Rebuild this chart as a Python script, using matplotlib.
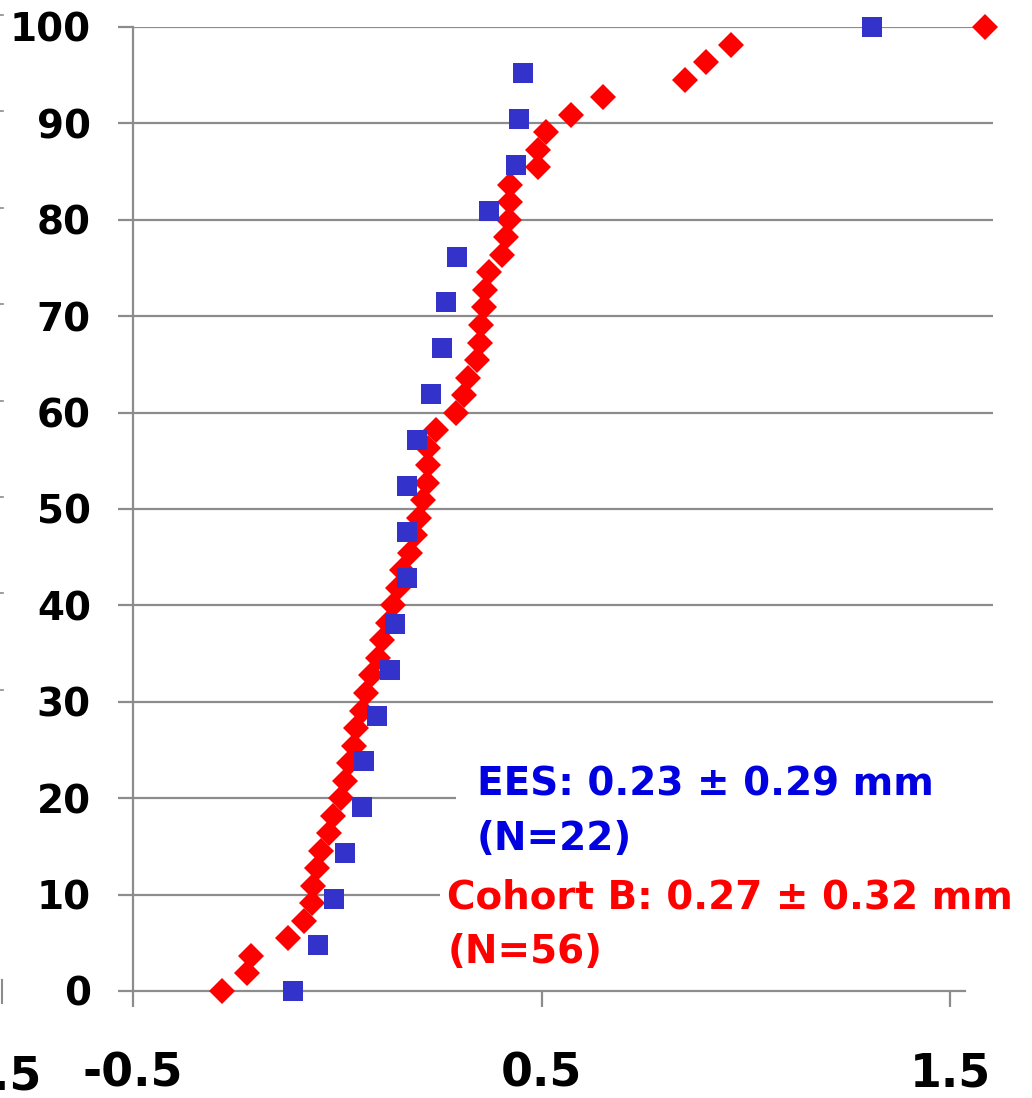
import matplotlib
matplotlib.use("Agg")
import matplotlib.pyplot as plt
from matplotlib.patches import Rectangle
from matplotlib.lines import Line2D

# ---------------- data ----------------
ees_x = [-0.108, -0.047, -0.007, 0.019, 0.060, 0.065, 0.097, 0.129, 0.141, 0.170, 0.171,
         0.171, 0.195, 0.230, 0.256, 0.266, 0.294, 0.371, 0.438, 0.446, 0.455, 1.309]
ees_y = [0.0, 4.76, 9.52, 14.29, 19.05, 23.81, 28.57, 33.33, 38.10, 42.86, 47.62,
         52.38, 57.14, 61.90, 66.67, 71.43, 76.19, 80.95, 85.71, 90.48, 95.24, 100.0]

cohort_x = [-0.282, -0.221, -0.211, -0.121, -0.081, -0.062, -0.059, -0.050, -0.040, -0.020,
            -0.010, 0.009, 0.019, 0.029, 0.041, 0.046, 0.061, 0.070, 0.083, 0.100,
            0.110, 0.124, 0.136, 0.149, 0.159, 0.178, 0.190, 0.200, 0.210, 0.220,
            0.222, 0.222, 0.242, 0.291, 0.310, 0.320, 0.342, 0.349, 0.352, 0.359,
            0.362, 0.371, 0.403, 0.413, 0.420, 0.423, 0.423, 0.491, 0.491, 0.511,
            0.572, 0.651, 0.851, 0.903, 0.964, 1.586]
cohort_y = [0.0, 1.82, 3.64, 5.45, 7.27, 9.09, 10.91, 12.73, 14.55, 16.36,
            18.18, 20.0, 21.82, 23.64, 25.45, 27.27, 29.09, 30.91, 32.73, 34.55,
            36.36, 38.18, 40.0, 41.82, 43.64, 45.45, 47.27, 49.09, 50.91, 52.73,
            54.55, 56.36, 58.18, 60.0, 61.82, 63.64, 65.45, 67.27, 69.09, 70.91,
            72.73, 74.55, 76.36, 78.18, 80.0, 81.82, 83.64, 85.45, 87.27, 89.09,
            90.91, 92.73, 94.55, 96.36, 98.18, 100.0]

y_ticks = [0, 10, 20, 30, 40, 50, 60, 70, 80, 90, 100]
x_ticks = [-0.5, 0.5, 1.5]
x_ticklabels = ["-0.5", "0.5", "1.5"]
ees_label = ["EES: 0.23 \u00b1 0.29 mm", "(N=22)"]
cohort_label = ["Cohort B: 0.27 \u00b1 0.32 mm", "(N=56)"]

# ---------------- figure ----------------
W, H = 1032, 1098
fig = plt.figure(figsize=(W / 100, H / 100), dpi=100)
plt.rcParams['font.family'] = ['DejaVu Sans']

ax_l, ax_r, ax_t, ax_b = 133, 993, 27, 991
ax = fig.add_axes([ax_l / W, (H - ax_b) / H, (ax_r - ax_l) / W, (ax_b - ax_t) / H])
ax.set_xlim(-0.5, -0.5 + (ax_r - ax_l) / 408.5)
ax.set_ylim(0, 100)

grey = '#8c8c8c'
for s in ['top', 'right']:
    ax.spines[s].set_visible(False)
ax.spines['left'].set_color(grey)
ax.spines['left'].set_linewidth(1.6)
ax.spines['bottom'].set_color(grey)
ax.spines['bottom'].set_linewidth(1.6)
ax.spines['bottom'].set_bounds(-0.5, 1.537)

# gridlines (except at 0)
xl = ax.get_xlim()
ax.hlines(y_ticks[1:], xl[0], xl[1], colors=grey, linewidth=1.6, zorder=1)

# white boxes behind the annotations
ax.add_patch(Rectangle((0.291, 16.5), 1.5, 8.0, facecolor='white', edgecolor='none', zorder=1.5))
ax.add_patch(Rectangle((0.2515, 6.5), 1.5, 7.0, facecolor='white', edgecolor='none', zorder=1.5))

ax.set_yticks(y_ticks)
ax.set_yticklabels([str(v) for v in y_ticks], fontsize=28, fontweight='bold')
ax.set_xticks(x_ticks)
ax.set_xticklabels(x_ticklabels, fontsize=33, fontweight='bold')
ax.tick_params(axis='y', direction='out', length=10.8, width=1.6, color=grey, pad=19.5)
ax.tick_params(axis='x', direction='out', length=11.5, width=1.6, color=grey, pad=32)

ax.plot(cohort_x, cohort_y, linestyle='none', marker='D', markersize=13.2,
        color='#ff0000', markeredgewidth=0, zorder=3, clip_on=False)
ax.plot(ees_x, ees_y, linestyle='none', marker='s', markersize=14.8,
        color='#3333cc', markeredgewidth=0, zorder=4, clip_on=False)

# annotations
fs = 28
ax.text(0.342, 20.3, ees_label[0], color='#0000e0', fontsize=fs, fontweight='bold',
        ha='left', va='baseline', zorder=5)
ax.text(0.342, 14.6, ees_label[1], color='#0000e0', fontsize=fs, fontweight='bold',
        ha='left', va='baseline', zorder=5)
ax.text(0.269, 8.6, cohort_label[0], color='#ff0000', fontsize=fs, fontweight='bold',
        ha='left', va='baseline', zorder=5, clip_on=False)
ax.text(0.269, 2.9, cohort_label[1], color='#ff0000', fontsize=fs, fontweight='bold',
        ha='left', va='baseline', zorder=5)

# cropped label at the far left (cut by the figure edge, as in the reference)
fig.text(42 / W, (H - 1054) / H, "-1.5", fontsize=33, fontweight='bold', ha='right', va='top')

# tiny remnants of a neighbouring chart on the left edge
for yv in y_ticks[3:]:
    ypx = ax_b - yv * 9.64 - 12
    fig.add_artist(Line2D([0, 3 / W], [(H - ypx) / H] * 2, color=grey, linewidth=1.2))
fig.add_artist(Line2D([1.5 / W] * 2, [(H - 980) / H, (H - 1003) / H], color=grey, linewidth=1.5))

fig.savefig('out.png', dpi=100)
